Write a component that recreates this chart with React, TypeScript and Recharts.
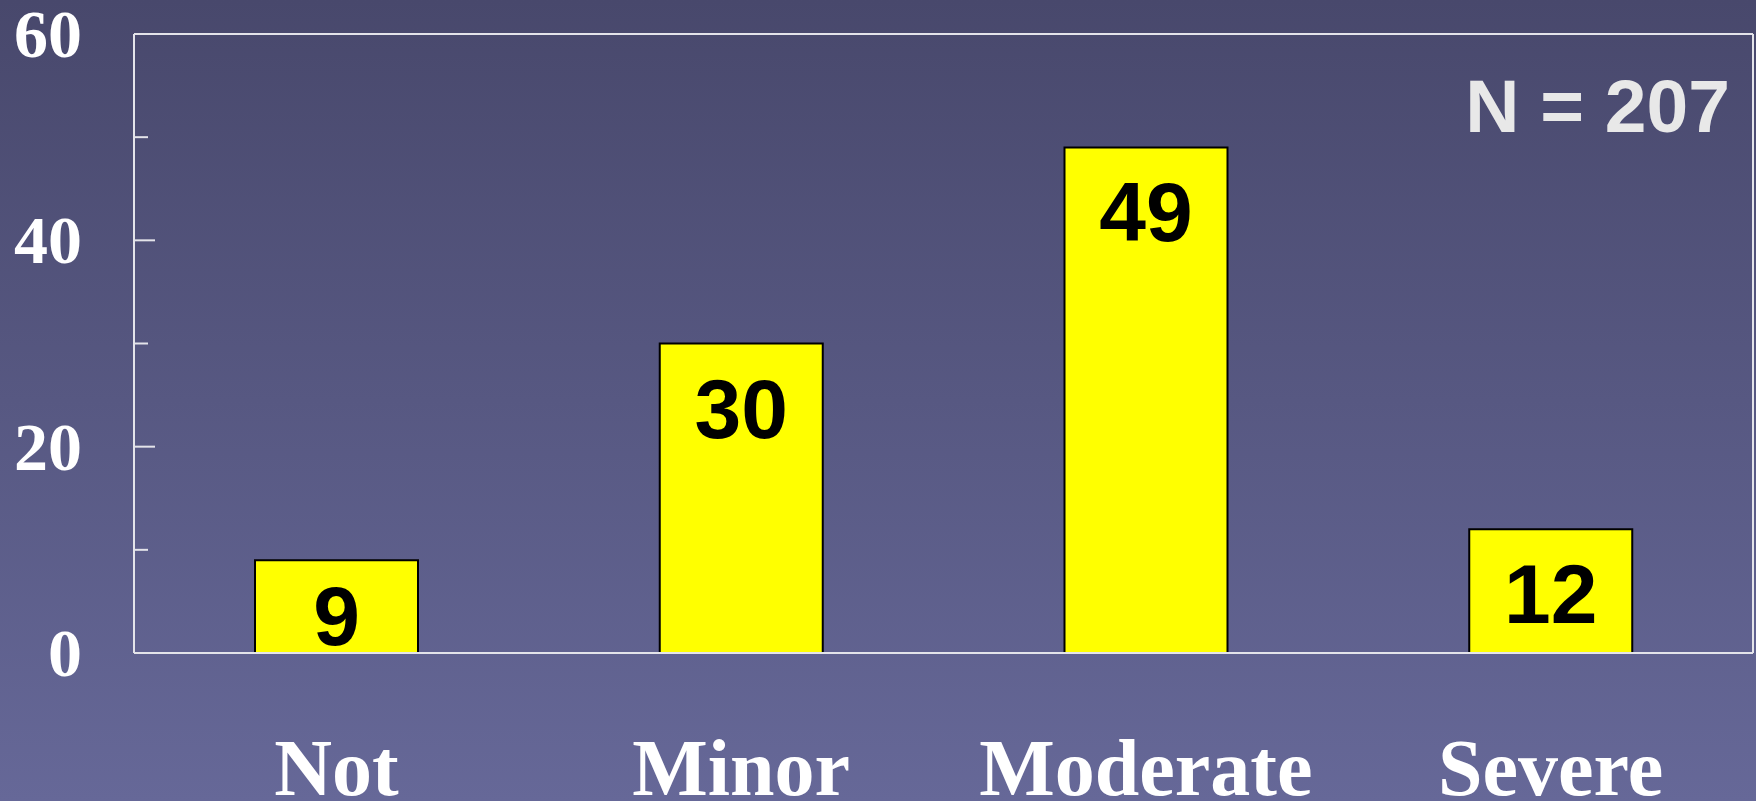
import { BarChart, Bar, XAxis, YAxis, LabelList, ReferenceLine } from 'recharts';

const categories = ['Not', 'Minor', 'Moderate', 'Severe'];
const counts = [9, 30, 49, 12];
const yTicks = [0, 10, 20, 30, 40, 50, 60];
const labelledTicks = [0, 20, 40, 60];
const sampleNote = 'N = 207';

const data = categories.map((name, i) => ({ name, count: counts[i] }));

const serif = '"Liberation Serif", "Times New Roman", serif';
const sans = '"Liberation Sans", Arial, sans-serif';
const lineColor = '#e4e4ea';

function YTick({ x, y, payload }: any) {
  const v = payload.value as number;
  const major = labelledTicks.includes(v);
  return (
    <g>
      {v > 0 && (
        <line x1={x} y1={y} x2={x + (major ? 21 : 14)} y2={y} stroke={lineColor} strokeWidth={2} />
      )}
      {major && (
        <text
          x={x - 52}
          y={y + 23}
          textAnchor="end"
          fill="#ffffff"
          fontFamily={serif}
          fontWeight="bold"
          fontSize={68}
        >
          {v}
        </text>
      )}
    </g>
  );
}

function XTick({ x, y, payload }: any) {
  return (
    <text
      x={x}
      y={y + 142}
      textAnchor="middle"
      fill="#ffffff"
      fontFamily={serif}
      fontWeight="bold"
      fontSize={80}
    >
      {payload.value}
    </text>
  );
}

function ValueLabel({ x, y, width, height, value }: any) {
  const baseline = Math.min(y + 94, y + height - 8);
  return (
    <text
      x={x + width / 2}
      y={baseline}
      textAnchor="middle"
      fill="#000000"
      fontFamily={sans}
      fontWeight="bold"
      fontSize={84}
    >
      {value}
    </text>
  );
}

export default function App() {
  return (
    <div
      style={{
        position: 'absolute',
        left: 0,
        top: 0,
        width: 1756,
        height: 801,
        overflow: 'hidden',
        background: 'linear-gradient(to bottom, #48486c 0%, #666898 100%)',
      }}
    >
      <BarChart
        width={1756}
        height={801}
        data={data}
        margin={{ top: 34, right: 0, left: 0, bottom: 0 }}
        barSize={163}
      >
        <XAxis
          dataKey="name"
          height={148}
          axisLine={{ stroke: lineColor, strokeWidth: 2 }}
          tickLine={false}
          tickSize={0}
          tickMargin={0}
          tick={<XTick />}
          interval={0}
        />
        <YAxis
          yAxisId="left"
          width={134}
          domain={[0, 60]}
          ticks={yTicks}
          interval={0}
          axisLine={{ stroke: lineColor, strokeWidth: 2 }}
          tickLine={false}
          tickSize={0}
          tickMargin={0}
          tick={<YTick />}
        />
        <YAxis
          yAxisId="right"
          orientation="right"
          width={3}
          domain={[0, 60]}
          axisLine={{ stroke: lineColor, strokeWidth: 2 }}
          tick={false}
          tickLine={false}
        />
        <ReferenceLine yAxisId="left" y={60} stroke={lineColor} strokeWidth={2} />
        <Bar
          yAxisId="left"
          dataKey="count"
          fill="#ffff00"
          stroke="#000000"
          strokeWidth={2}
          isAnimationActive={false}
        >
          <LabelList dataKey="count" content={<ValueLabel />} />
        </Bar>
      </BarChart>
      <div
        style={{
          position: 'absolute',
          right: 26,
          top: 69,
          fontFamily: sans,
          fontWeight: 'bold',
          fontSize: 75,
          lineHeight: 1,
          color: '#e8e8e8',
          whiteSpace: 'nowrap',
        }}
      >
        {sampleNote}
      </div>
    </div>
  );
}
